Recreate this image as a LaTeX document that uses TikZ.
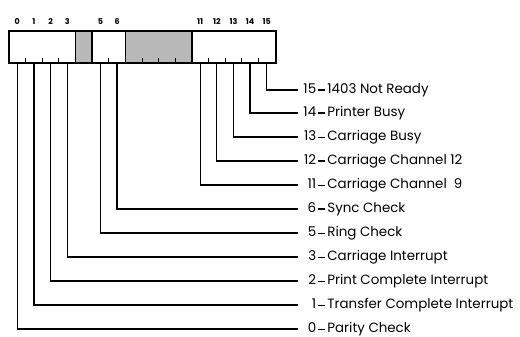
\documentclass[tikz,border=0pt]{standalone}
\usepackage{fontspec}
\setmainfont{Poppins}
\begin{document}
\begin{tikzpicture}[x=1pt,y=-1pt,
  wire/.style={line width=1.2pt},
  edge/.style={line width=1.4pt},
  shaded/.style={fill=gray!55,draw=none},
  tick/.style={line width=0.8pt},
  lbl/.style={anchor=base west,inner sep=0pt,font=\fontsize{13.4}{15}\selectfont},
  bitnum/.style={anchor=base,inner sep=0pt,font=\fontsize{8}{9}\selectfont\bfseries}]
\useasboundingbox (0,0) rectangle (520,337);
\def\bw{16.625}
% register
\node[draw,line width=1.4pt,minimum width=266pt,minimum height=31pt,inner sep=0pt,anchor=north west] (reg) at (9,31) {};
\fill[shaded] (75.5,31) rectangle (92.1,62);
\fill[shaded] (125.4,31) rectangle (191.9,62);
\draw[edge] (75.5,31) -- (75.5,62) (92.1,31) -- (92.1,62);
\draw[edge] (125.4,31) -- (125.4,62) (191.9,31) -- (191.9,62);
\draw[edge] (reg.north west) rectangle (reg.south east);
% ticks at bit boundaries
\foreach \i in {1,2,3,6,8,9,10,12,13,14,15}
  \draw[tick] ({9+\i*\bw},62) -- ({9+\i*\bw},58);
% bit numbers
\foreach \i in {0,1,2,3,5,6,11,12,13,14,15}
  \node[bitnum] (n\i) at ({9+(\i+0.5)*\bw},25) {\i};
% label format
\newcommand{\lab}[2]{\makebox[15pt][r]{#1}\hspace{2pt}\rule[3pt]{7pt}{1.1pt}\hspace{2.2pt}#2}
% bit anchors and labels
\foreach \i/\y/\t in {15/90/1403 Not Ready,14/113/Printer Busy,13/137/Carriage Busy,
  12/161/Carriage Channel 12,11/185/Carriage Channel\ \ 9,6/209/Sync Check,5/233/Ring Check,
  3/257/Carriage Interrupt,2/281/Print Complete Interrupt,1/305/Transfer Complete Interrupt,
  0/329/Parity Check}{
  \coordinate (b\i) at ({9+(\i+0.5)*\bw},62);
  \coordinate (e\i) at (298,\y);
  \node[lbl] (l\i) at (301,\y+3.6) {\lab{\i}{\t}};
  \draw[wire] (b\i) |- (e\i);
}
\end{tikzpicture}
\end{document}
